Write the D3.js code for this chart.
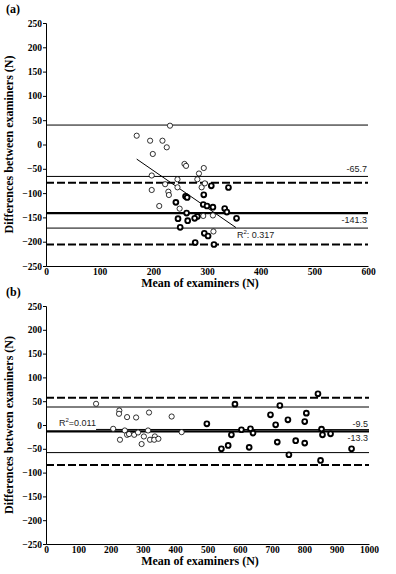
<!DOCTYPE html>
<html>
<head>
<meta charset="utf-8">
<script src="https://cdn.jsdelivr.net/npm/d3@7"></script>
<style>
  body { margin: 0; background: #fff; }
  svg { display: block; }
  .note { font-family: "Liberation Sans", Arial, sans-serif; font-size: 9px; fill: #222; }
  .title { font-family: "Liberation Serif", serif; font-weight: bold; font-size: 12px; }
</style>
</head>
<body>
<div id="chart"></div>
<script>
// panel (a): mean of examiners vs difference, open and bold markers
const aOpenMean = [231, 169, 194, 217, 225, 199, 258, 261, 294, 285, 197, 245, 282, 222, 197, 228, 229, 245, 290, 296, 211, 249, 293, 311, 312];
const aOpenDiff = [38.7, 18.1, 7.8, 7.8, -5.8, -19.5, -40, -44, -48.4, -59.7, -63.8, -71.6, -71.6, -81.7, -93.6, -97.1, -103.9, -88.1, -88.1, -80, -126.5, -132, -147, -146, -179];
const aBoldMean = [308, 340, 260, 263, 294, 242, 293, 300, 311, 333, 337, 262, 282, 246, 264, 277, 355, 250, 295, 302, 278, 313];
const aBoldDiff = [-85, -88.5, -106.6, -109, -103.5, -119, -123.5, -126.5, -129, -131.7, -139, -141, -148, -152.7, -156.8, -151.9, -151.9, -170.4, -182.7, -188.3, -201.6, -205.8];
const aThinLines = [40, -65.7, -172];
const aThickLines = [-141.3];
const aDashedLines = [-78.6, -206];
const aRegMean = [169, 354];
const aRegDiff = [-30, -171];

// panel (b)
const bOpenMean = [155, 227, 226, 251, 279, 319, 389, 208, 244, 229, 251, 257, 273, 285, 303, 316, 296, 322, 337, 335, 348, 420];
const bOpenDiff = [44.5, 30.4, 23.5, 16.6, 15.8, 26.2, 17.8, -8, -11.5, -31, -20.6, -19, -20.6, -15.7, -24.1, -11.5, -40, -31, -24, -31, -29, -15];
const bBoldMean = [498, 585, 724, 842, 695, 806, 749, 801, 711, 605, 633, 641, 574, 853, 856, 881, 716, 773, 801, 564, 543, 629, 752, 946, 850];
const bBoldDiff = [2.5, 43.8, 41, 65.5, 21.4, 24.9, 10.9, 7.3, 0.4, -10, -8, -17, -20.6, -8.6, -20.6, -18.5, -35.9, -33, -38, -43, -50, -47, -62.5, -50, -74.5];
const bThinLines = [37.8, -58];
const bThickLines = [-13.3];
const bDashedLines = [57.5, -84];
const bRegMean = [155, 1000];
const bRegDiff = [-9.3, -9.7];

const yTicks = d3.range(-250, 251, 50);

const svg = d3.select("#chart").append("svg")
    .attr("width", 396)
    .attr("height", 574);

function drawPanel(p) {
    const x = d3.scaleLinear().domain([0, p.xMax]).range([46, p.right]);
    const y = d3.scaleLinear().domain([-250, 250]).range([p.bottom, p.top]);
    const g = svg.append("g");

    // reference lines
    p.thin.forEach(v => g.append("line")
        .attr("x1", x(0)).attr("x2", x(p.xMax)).attr("y1", y(v)).attr("y2", y(v))
        .attr("stroke", "#000").attr("stroke-width", 1));
    p.thick.forEach(v => g.append("line")
        .attr("x1", x(0)).attr("x2", x(p.xMax)).attr("y1", y(v)).attr("y2", y(v))
        .attr("stroke", "#000").attr("stroke-width", 2.2));
    p.dashed.forEach(v => g.append("line")
        .attr("x1", x(0)).attr("x2", x(p.xMax)).attr("y1", y(v)).attr("y2", y(v))
        .attr("stroke", "#000").attr("stroke-width", 2).attr("stroke-dasharray", "8,3"));

    // regression line
    g.append("line")
        .attr("x1", x(p.regX[0])).attr("x2", x(p.regX[1]))
        .attr("y1", y(p.regY[0])).attr("y2", y(p.regY[1]))
        .attr("stroke", "#000").attr("stroke-width", 1);

    // points
    g.selectAll(".open")
        .data(d3.zip(p.openX, p.openY))
        .enter().append("circle")
        .attr("cx", d => x(d[0])).attr("cy", d => y(d[1])).attr("r", 2.6)
        .attr("fill", "#fff").attr("stroke", "#000").attr("stroke-width", 0.8);
    g.selectAll(".bold")
        .data(d3.zip(p.boldX, p.boldY))
        .enter().append("circle")
        .attr("cx", d => x(d[0])).attr("cy", d => y(d[1])).attr("r", 2.4)
        .attr("fill", "#fff").attr("stroke", "#000").attr("stroke-width", 1.9);

    // axes
    const yAxis = g.append("g")
        .attr("transform", `translate(46,0)`)
        .call(d3.axisLeft(y).tickValues(yTicks).tickSize(3).tickPadding(1).tickFormat(d3.format("d")));
    const xAxis = g.append("g")
        .attr("transform", `translate(0,${p.bottom})`)
        .call(d3.axisBottom(x).tickValues(d3.range(0, p.xMax + 1, 100)).tickSize(0).tickPadding(2).tickFormat(d3.format("d")));
    [yAxis, xAxis].forEach(a => a
        .attr("font-family", "Liberation Serif, serif")
        .attr("font-weight", "bold")
        .attr("font-size", 9.5));

    // value labels
    p.labels.forEach(l => g.append("text")
        .attr("class", "note")
        .attr("x", x(p.xMax) - 1)
        .attr("y", y(l.v) + l.dy)
        .attr("text-anchor", "end")
        .text(l.text));

    const r2 = g.append("text").attr("class", "note")
        .attr("x", p.r2x).attr("y", p.r2y);
    r2.append("tspan").text("R");
    r2.append("tspan").attr("dy", -4).attr("font-size", "6px").text("2");
    r2.append("tspan").attr("dy", 4).text(p.r2text);

    // titles
    g.append("text").attr("class", "title")
        .attr("transform", `translate(13,${(p.top + p.bottom) / 2}) rotate(-90)`)
        .attr("text-anchor", "middle")
        .text("Differences between examiners (N)");
    g.append("text").attr("class", "title")
        .attr("x", 200).attr("y", p.bottom + 21)
        .attr("text-anchor", "middle")
        .text("Mean of examiners (N)");
    g.append("text").attr("class", "title")
        .attr("x", 6).attr("y", p.top - 10)
        .text(p.name);
}

drawPanel({
    name: "(a)", xMax: 600, top: 23, bottom: 266, right: 368,
    openX: aOpenMean, openY: aOpenDiff, boldX: aBoldMean, boldY: aBoldDiff,
    thin: aThinLines, thick: aThickLines, dashed: aDashedLines,
    regX: aRegMean, regY: aRegDiff,
    labels: [{v: -65.7, text: "-65.7", dy: -4}, {v: -141.3, text: "-141.3", dy: 10}],
    r2x: 237, r2y: 238, r2text: ": 0.317"
});

drawPanel({
    name: "(b)", xMax: 1000, top: 306, bottom: 544, right: 369,
    openX: bOpenMean, openY: bOpenDiff, boldX: bBoldMean, boldY: bBoldDiff,
    thin: bThinLines, thick: bThickLines, dashed: bDashedLines,
    regX: bRegMean, regY: bRegDiff,
    labels: [{v: -9.5, text: "-9.5", dy: -3}, {v: -13.3, text: "-13.3", dy: 10}],
    r2x: 59, r2y: 426, r2text: "=0.011"
});
</script>
</body>
</html>
